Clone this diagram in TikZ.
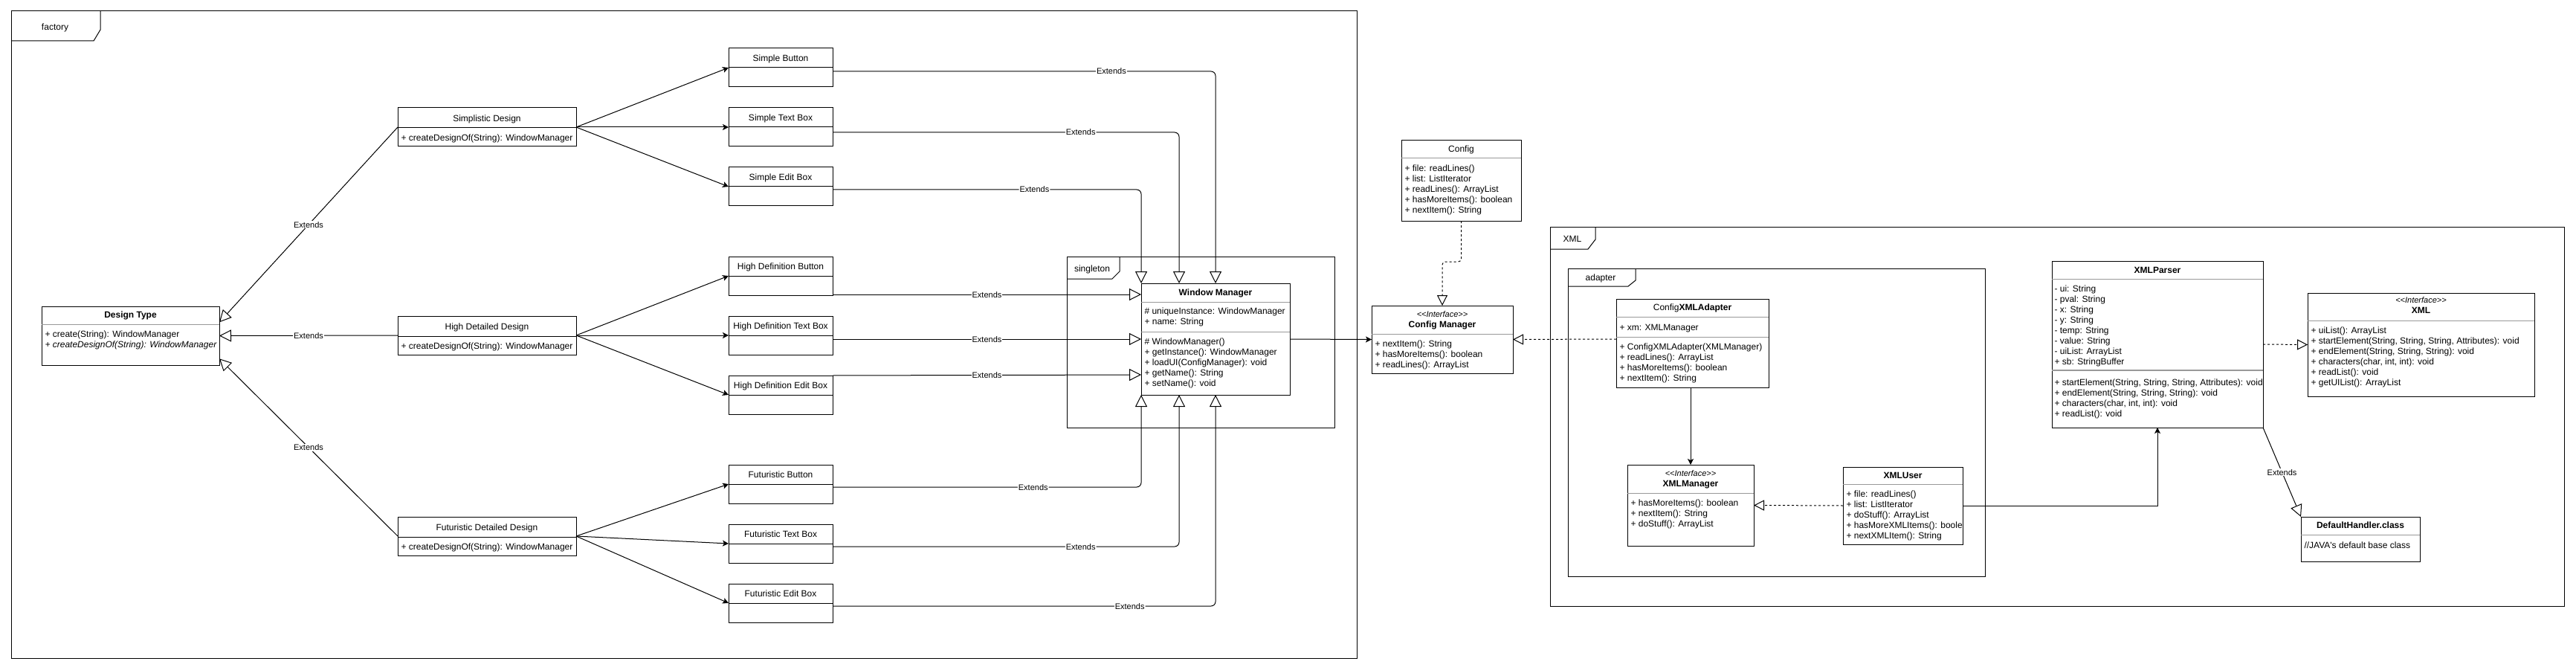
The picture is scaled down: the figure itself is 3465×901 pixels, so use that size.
\documentclass[tikz,border=0pt]{standalone}
\usepackage{fontspec}
\setmainfont{Liberation Sans}
\usetikzlibrary{arrows.meta,calc}
\definecolor{sepgray}{HTML}{999999}
\newcommand\csep[3][black]{\draw[#1,line width=1pt] ($(#2.north west)+(0,#3)$) -- ($(#2.north east)+(0,#3)$);}
\newcommand\ifc{<{}<Interface>{}>}
\begin{document}
\begin{tikzpicture}[x=1pt,y=-1pt, line width=1pt,
  box/.style={draw, anchor=north west, inner sep=0pt, outer sep=0pt, fill=white},
  ttl/.style={inner sep=0pt, text height=8.6pt, text depth=0pt, font=\fontsize{12}{14}\selectfont\bfseries},
  ntl/.style={inner sep=0pt, text height=8.6pt, text depth=0pt, font=\fontsize{12}{14}\selectfont},
  ster/.style={inner sep=0pt, text height=8pt, text depth=0pt, font=\fontsize{11}{13}\selectfont\itshape},
  mem/.style={anchor=north west, align=left, inner sep=0pt, font=\fontsize{12}{14}\selectfont, execute at begin node=\strut},
  frmlbl/.style={inner sep=0pt, text height=8.6pt, text depth=0pt, font=\fontsize{12}{14}\selectfont},
  elbl/.style={fill=white, inner sep=1pt, text height=8pt, text depth=0pt, font=\fontsize{11}{13}\selectfont},
  arr/.style={-{Stealth[length=8pt,width=8pt,inset=2pt]}},
  gen/.style={-{Triangle[length=16pt,width=16pt,fill=white]}},
  rlz/.style={dash pattern=on 3pt off 3pt, -{Triangle[length=14pt,width=14pt,fill=white]}},
]
\path[use as bounding box, fill=white] (0,0) rectangle (3465,901);

% ---------- frames ----------
\draw (15,15) rectangle (1825,885);
\draw (15,55) -- (126,55) -- (135,40) -- (135,15);
\node[frmlbl] (facl) at (74,36) {factory};

\draw (1435,345) rectangle (1795,575);
\draw (1435,375) -- (1496,375) -- (1506,365) -- (1506,345);
\node[frmlbl] (sgl) at (1469,361) {singleton};

\draw (2085,305) rectangle (3449,815);
\draw (2085,335) -- (2136,335) -- (2146,322) -- (2146,305);
\node[frmlbl] (xmll) at (2115,321) {XML};

\draw (2109,361) rectangle (2670,775);
\draw (2109,385) -- (2190,385) -- (2200,377) -- (2200,361);
\node[frmlbl] (adl) at (2153,373) {adapter};

% ---------- Design Type ----------
\node[box, minimum width=239pt, minimum height=79pt] (dt) at (56,412) {};
\csep[sepgray]{dt}{24}
\node[ttl] (dtt) at ($(dt.north)+(0,11)$) {Design Type};
\node[mem] (dtm) at (60,444.5) {+ create(String): WindowManager\\\textit{+ createDesignOf(String): WindowManager}};

% ---------- designs ----------
\node[box, minimum width=240pt, minimum height=52pt] (sd) at (535,145) {};
\csep{sd}{27}
\node[ntl] (sdt) at ($(sd.north)+(0,14)$) {Simplistic Design};
\node[mem] (sdm) at (539,179.5) {+ createDesignOf(String): WindowManager};

\node[box, minimum width=240pt, minimum height=52pt] (hd) at (535,425) {};
\csep{hd}{27}
\node[ntl] (hdtt) at ($(hd.north)+(0,14)$) {High Detailed Design};
\node[mem] (hdm) at (539,459.5) {+ createDesignOf(String): WindowManager};

\node[box, minimum width=240pt, minimum height=52pt] (fd) at (535,695) {};
\csep{fd}{27}
\node[ntl] (fdt) at ($(fd.north)+(0,14)$) {Futuristic Detailed Design};
\node[mem] (fdm) at (539,729.5) {+ createDesignOf(String): WindowManager};

% ---------- components ----------
\node[box, minimum width=140pt, minimum height=52pt] (sb) at (980,65) {};
\csep{sb}{26}
\node[ntl] (sbt) at ($(sb.north)+(0,13.5)$) {Simple Button};
\node[box, minimum width=140pt, minimum height=52pt] (stb) at (980,145) {};
\csep{stb}{26}
\node[ntl] (stbt) at ($(stb.north)+(0,13.5)$) {Simple Text Box};
\node[box, minimum width=140pt, minimum height=52pt] (seb) at (980,225) {};
\csep{seb}{26}
\node[ntl] (sebt) at ($(seb.north)+(0,13.5)$) {Simple Edit Box};

\node[box, minimum width=140pt, minimum height=52pt] (hdb) at (980,345) {};
\csep{hdb}{26}
\node[ntl] (hdbt) at ($(hdb.north)+(0,13.5)$) {High Definition Button};
\node[box, minimum width=140pt, minimum height=52pt] (hdx) at (980,425) {};
\csep{hdx}{26}
\node[ntl] (hdxt) at ($(hdx.north)+(0,13.5)$) {High Definition Text Box};
\node[box, minimum width=140pt, minimum height=52pt] (hde) at (980,505) {};
\csep{hde}{26}
\node[ntl] (hdet) at ($(hde.north)+(0,13.5)$) {High Definition Edit Box};

\node[box, minimum width=140pt, minimum height=52pt] (fb) at (980,625) {};
\csep{fb}{26}
\node[ntl] (fbt) at ($(fb.north)+(0,13.5)$) {Futuristic Button};
\node[box, minimum width=140pt, minimum height=52pt] (ftb) at (980,705) {};
\csep{ftb}{26}
\node[ntl] (ftbt) at ($(ftb.north)+(0,13.5)$) {Futuristic Text Box};
\node[box, minimum width=140pt, minimum height=52pt] (feb) at (980,785) {};
\csep{feb}{26}
\node[ntl] (febt) at ($(feb.north)+(0,13.5)$) {Futuristic Edit Box};

% ---------- Window Manager ----------
\node[box, minimum width=200pt, minimum height=150pt] (wm) at (1535,381) {};
\csep[sepgray]{wm}{25}
\csep[sepgray]{wm}{65}
\node[ttl] (wmt) at ($(wm.north)+(0,12.5)$) {Window Manager};
\node[mem] (wma) at (1539,413.5) {\# uniqueInstance: WindowManager\\+ name: String};
\node[mem] (wmm) at (1539,454.5) {\# WindowManager()\\+ getInstance(): WindowManager\\+ loadUI(ConfigManager): void\\+ getName(): String\\+ setName(): void};

% ---------- Config Manager ----------
\node[box, minimum width=190pt, minimum height=91pt] (cm) at (1845,411) {};
\csep[sepgray]{cm}{38}
\node[ster] (cms) at ($(cm.north)+(0,11)$) {\ifc};
\node[ttl] (cmt) at ($(cm.north)+(0,25)$) {Config Manager};
\node[mem] (cmm) at (1849,457.5) {+ nextItem(): String\\+ hasMoreItems(): boolean\\+ readLines(): ArrayList};

% ---------- Config ----------
\node[box, minimum width=161pt, minimum height=108pt] (cfg) at (1885,189) {};
\csep[sepgray]{cfg}{24}
\node[ntl] (cfgt) at ($(cfg.north)+(0,11)$) {Config};
\node[mem] (cfgm) at (1889,221.5) {+ file: readLines()\\+ list: ListIterator\\+ readLines(): ArrayList\\+ hasMoreItems(): boolean\\+ nextItem(): String};

% ---------- ConfigXMLAdapter ----------
\node[box, minimum width=205pt, minimum height=119pt] (cxa) at (2174,402) {};
\csep[sepgray]{cxa}{24}
\csep[sepgray]{cxa}{51}
\node[ntl] (cxat) at ($(cxa.north)+(0,11)$) {Config\textbf{XMLAdapter}};
\node[mem] (cxaa) at (2178,434.5) {+ xm: XMLManager};
\node[mem] (cxam) at (2178,461.5) {+ ConfigXMLAdapter(XMLManager)\\+ readLines(): ArrayList\\+ hasMoreItems(): boolean\\+ nextItem(): String};

% ---------- XMLManager ----------
\node[box, minimum width=170pt, minimum height=109pt] (xm) at (2189,625) {};
\csep[sepgray]{xm}{38}
\node[ster] (xms) at ($(xm.north)+(0,11)$) {\ifc};
\node[ttl] (xmt) at ($(xm.north)+(0,25)$) {XMLManager};
\node[mem] (xmm) at (2193,671.5) {+ hasMoreItems(): boolean\\+ nextItem(): String\\+ doStuff(): ArrayList};

% ---------- XMLUser ----------
\node[box, minimum width=161pt, minimum height=104pt] (xu) at (2479,628) {};
\csep[sepgray]{xu}{23}
\node[ttl] (xut) at ($(xu.north)+(0,11)$) {XMLUser};
\begin{scope}
\clip (xu.north west) rectangle (xu.south east);
\node[mem] (xum) at (2483,659.5) {+ file: readLines()\\+ list: ListIterator\\+ doStuff(): ArrayList\\+ hasMoreXMLItems(): boolean\\+ nextXMLItem(): String};
\end{scope}

% ---------- XMLParser ----------
\node[box, minimum width=284pt, minimum height=224pt] (xp) at (2760,351) {};
\csep[sepgray]{xp}{24}
\draw[sepgray, line width=2pt] ($(xp.north west)+(0,147)$) -- ($(xp.north east)+(0,147)$);
\node[ttl] (xpt) at ($(xp.north)+(0,12)$) {XMLParser};
\node[mem] (xpa) at (2763,383.5) {- ui: String\\- pval: String\\- x: String\\- y: String\\- temp: String\\- value: String\\- uiList: ArrayList\\+ sb: StringBuffer};
\node[mem] (xpm) at (2763,509.5) {+ startElement(String, String, String, Attributes): void\\+ endElement(String, String, String): void\\+ characters(char, int, int): void\\+ readList(): void};

% ---------- XML interface ----------
\node[box, minimum width=305pt, minimum height=139pt] (xi) at (3104,394) {};
\csep[sepgray]{xi}{37}
\node[ster] (xis) at ($(xi.north)+(0,9)$) {\ifc};
\node[ttl] (xit) at ($(xi.north)+(0,23)$) {XML};
\node[mem] (xim) at (3108,439.5) {+ uiList(): ArrayList\\+ startElement(String, String, String, Attributes): void\\+ endElement(String, String, String): void\\+ characters(char, int, int): void\\+ readList(): void\\+ getUIList(): ArrayList};

% ---------- DefaultHandler ----------
\node[box, minimum width=160pt, minimum height=60pt] (dh) at (3095,695) {};
\csep[sepgray]{dh}{24}
\node[ttl] (dht) at ($(dh.north)+(0,11)$) {DefaultHandler.class};
\node[mem] (dhm) at (3099,727.5) {//JAVA\textquotesingle s default base class};

% ---------- connectors: designs to components ----------
\draw[arr] (sd.east) -- (sb.west);
\draw[arr] (sd.east) -- (stb.west);
\draw[arr] (sd.east) -- (seb.west);
\draw[arr] (hd.east) -- (hdb.west);
\draw[arr] (hd.east) -- (hdx.west);
\draw[arr] (hd.east) -- (hde.west);
\draw[arr] (fd.east) -- (fb.west);
\draw[arr] (fd.east) -- (ftb.west);
\draw[arr] (fd.east) -- (feb.west);

% ---------- extends to Design Type ----------
\draw[gen] (sd.west) -- node[elbl] (e1) {Extends} ($(dt.north east)!0.27!(dt.south east)$);
\draw[gen] (hd.west) -- node[elbl] (e2) {Extends} (dt.east);
\draw[gen] (fd.west) -- node[elbl] (e3) {Extends} ($(dt.north east)!0.89!(dt.south east)$);

% ---------- extends to Window Manager ----------
\draw[gen, rounded corners=6pt] ($(sb.north east)+(0,31)$) -| node[elbl, pos=0.364] (e4) {Extends} (wm.north);
\draw[gen, rounded corners=6pt] ($(stb.north east)+(0,33)$) -| node[elbl, pos=0.358] (e5) {Extends} ($(wm.north west)+(51,0)$);
\draw[gen, rounded corners=6pt] ($(seb.north east)+(0,30)$) -| node[elbl, pos=0.327] (e6) {Extends} (wm.north west);
\draw[gen] ($(hdb.south east)+(0,-1)$) -- node[elbl] (e7) {Extends} ($(wm.north west)+(0,15)$);
\draw[gen] ($(hdx.north east)+(0,31)$) -- node[elbl] (e8) {Extends} ($(wm.north west)+(0,75)$);
\draw[gen] (hde.north east) -- node[elbl] (e9) {Extends} ($(wm.north west)+(0,123)$);
\draw[gen, rounded corners=6pt] ($(fb.north east)+(0,30)$) -| node[elbl, pos=0.325] (e10) {Extends} (wm.south west);
\draw[gen, rounded corners=6pt] ($(ftb.north east)+(0,30)$) -| node[elbl, pos=0.358] (e11) {Extends} ($(wm.south west)+(51,0)$);
\draw[gen, rounded corners=6pt] ($(feb.north east)+(0,30)$) -| node[elbl, pos=0.388] (e12) {Extends} (wm.south);

% ---------- right part ----------
\draw[arr] (wm.east) -- (cm.west);
\draw[rlz, rounded corners=4pt] (cfg.south) -- ++(0,55) -| (cm.north);
\draw[rlz] ($(cxa.north west)+(0,54)$) -- (cm.east);
\draw[arr] (xm.north |- cxa.south) -- (xm.north);
\draw[rlz] (xu.west) -- (xm.east);
\draw[arr] (xu.east) -| (xp.south);
\draw[rlz] (xp.east) -- (xi.west);
\draw[gen] (xp.south east) -- node[elbl] (e13) {Extends} (dh.north west);
\end{tikzpicture}
\end{document}
